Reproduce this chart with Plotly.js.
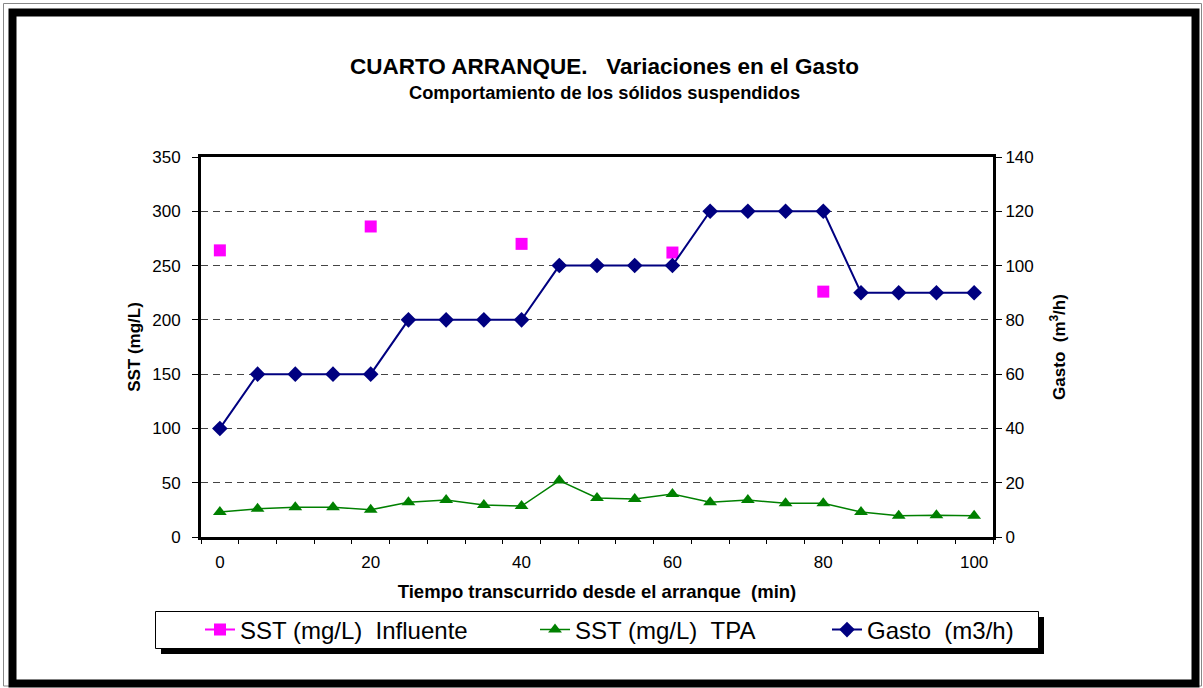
<!DOCTYPE html>
<html>
<head>
<meta charset="utf-8">
<script src="https://cdn.plot.ly/plotly-3.0.1.min.js"></script>
<style>
html,body{margin:0;padding:0;background:#fff;}
#chart{width:1203px;height:688px;}
</style>
</head>
<body>
<div id="chart"></div>
<script>
// ---- data ----
const tiempo = [0,5,10,15,20,25,30,35,40,45,50,55,60,65,70,75,80,85,90,95,100];
const tiempoInfluente = [0,20,40,60,80];
const sstInfluente = [264,286,270,262,226];
const sstTPA = [23,26,27.5,27.5,25,32,34,29.5,28.5,52,36,35,39.5,32,34,31,31,23,19.5,20,19.5];
const gasto = [40,60,60,60,60,80,80,80,80,100,100,100,100,120,120,120,120,90,90,90,90];
const xTickLabels = ['0','20','40','60','80','100'];
const xTickVals = [0,20,40,60,80,100];

// ---- geometry helpers (pixel -> paper) ----
const L=201, R=993, T=157, B=537, W=1203, H=688;
const px = v => (v-L)/(R-L);
const py = v => (B-v)/(B-T);
const NB = '\u00a0';

const FONT = 'Liberation Sans, Arial, sans-serif';

const minorTicks = [];
for (let v=-2.5; v<=102.5; v+=5) minorTicks.push(v);

// influent: separate points with gaps so legend shows line+marker but no connecting line is drawn
const infX = [], infY = [];
tiempoInfluente.forEach((t,i)=>{ if(i){infX.push(null); infY.push(null);} infX.push(t); infY.push(sstInfluente[i]); });

const traces = [
  {x: infX, y: infY, name: 'SST (mg/L)'+NB+NB+'Influente', type:'scatter', mode:'lines+markers', connectgaps:false,
   line:{color:'#FF00FF', width:2}, marker:{symbol:'square', size:12, color:'#FF00FF'}, legend:'legend', cliponaxis:false},
  {x: tiempo, y: sstTPA, name: 'SST (mg/L)'+NB+NB+'TPA', type:'scatter', mode:'lines+markers',
   line:{color:'#008000', width:1.5}, marker:{symbol:'triangle-up', size:12, color:'#008000'}, legend:'legend2', cliponaxis:false},
  {x: tiempo, y: gasto, name: 'Gasto'+NB+NB+'(m3/h)', type:'scatter', mode:'lines+markers', yaxis:'y2',
   line:{color:'#000080', width:2}, marker:{symbol:'diamond', size:12, color:'#000080'}, legend:'legend3', cliponaxis:false},
  {x:[0], y:[0], xaxis:'x2', mode:'markers', marker:{opacity:0}, showlegend:false, hoverinfo:'skip'}
];

const legendCommon = {orientation:'h', bgcolor:'rgba(0,0,0,0)', borderwidth:0,
  font:{family:FONT, size:24, color:'#000'}, xanchor:'left', yanchor:'middle', itemwidth:30};

const shapes = [
  {type:'rect', xref:'paper', yref:'paper', x0:px(3.5), x1:px(1201.5), y0:py(3.5), y1:py(686), line:{color:'#888', width:1}, layer:'below'},
  {type:'rect', xref:'paper', yref:'paper', x0:px(12.5), x1:px(1195.5), y0:py(12.5), y1:py(683.5), line:{color:'#000', width:8}, layer:'below'},
  {type:'rect', xref:'paper', yref:'paper', x0:px(161), x1:px(1044), y0:py(617), y1:py(654), fillcolor:'#000', line:{width:0}, layer:'below'},
  {type:'rect', xref:'paper', yref:'paper', x0:px(155.5), x1:px(1038.5), y0:py(611.5), y1:py(648.5), fillcolor:'#fff', line:{color:'#000', width:1}, layer:'below'}
];

const annotations = [
  {text:'<b>CUARTO ARRANQUE.'+NB+NB+NB+'Variaciones en el Gasto</b>', xref:'paper', yref:'paper', x:px(604.5), y:py(67),
   showarrow:false, font:{family:FONT, size:22.5, color:'#000'}, xanchor:'center', yanchor:'middle'},
  {text:'<b>Comportamiento de los sólidos suspendidos</b>', xref:'paper', yref:'paper', x:px(604.5), y:py(92),
   showarrow:false, font:{family:FONT, size:18.3, color:'#000'}, xanchor:'center', yanchor:'middle'}
];

const layout = {
  width:W, height:H,
  margin:{l:L, r:W-R, t:T, b:H-B, pad:0},
  paper_bgcolor:'#fff', plot_bgcolor:'#fff',
  font:{family:FONT, size:17, color:'#000'},
  showlegend:true,
  xaxis:{range:[-2.5,102.5], tickvals:xTickVals, ticktext:xTickLabels, ticks:'', showgrid:false, zeroline:false,
    showline:true, linecolor:'#000', linewidth:3, mirror:true, tickfont:{family:FONT, size:17}, ticklabelstandoff:8,
    title:{text:'<b>Tiempo transcurrido desde el arranque'+NB+NB+'(min)</b>', font:{family:FONT, size:18.5}, standoff:14}},
  xaxis2:{overlaying:'x', range:[-2.5,102.5], tickvals:minorTicks, ticks:'outside', ticklen:6, tickwidth:1, tickcolor:'#000',
    showticklabels:false, showgrid:false, zeroline:false, showline:false, side:'bottom'},
  yaxis:{range:[0,350], dtick:50, ticks:'outside', ticklen:6, tickcolor:'#000', showgrid:true, gridcolor:'#444', griddash:'7px,5px',
    gridwidth:1, zeroline:false, showline:true, linecolor:'#000', linewidth:3, mirror:true, tickfont:{family:FONT, size:17},
    ticklabelstandoff:8,
    title:{text:'<b>SST (mg/L)</b>', font:{family:FONT, size:17}, standoff:8}},
  yaxis2:{overlaying:'y', side:'right', range:[0,140], dtick:20, ticks:'outside', ticklen:6, tickcolor:'#000', showgrid:false,
    zeroline:false, showline:true, linecolor:'#000', linewidth:3, tickfont:{family:FONT, size:17},
    title:{text:'<b>Gasto'+NB+NB+'(m<sup>3</sup>/h)</b>', font:{family:FONT, size:17}, standoff:21}},
  legend: Object.assign({}, legendCommon, {x:px(200), y:py(630)}),
  legend2: Object.assign({}, legendCommon, {x:px(535), y:py(630)}),
  legend3: Object.assign({}, legendCommon, {x:px(827), y:py(630)}),
  shapes: shapes,
  annotations: annotations
};

Plotly.newPlot('chart', traces, layout, {displayModeBar:false, staticPlot:true});
</script>
</body>
</html>
